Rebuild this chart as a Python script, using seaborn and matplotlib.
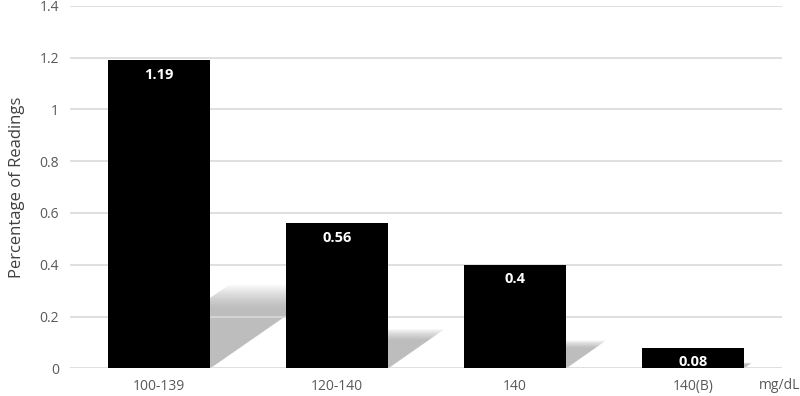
import numpy as np
import pandas as pd
import matplotlib
matplotlib.use("Agg")
import matplotlib.pyplot as plt
import seaborn as sns
from matplotlib.patches import Polygon

# readings per glucose range
ranges = ["100-139", "120-140", "140", "140(B)"]
percent = [1.19, 0.56, 0.4, 0.08]
value_labels = ["1.19", "0.56", "0.4", "0.08"]

df = pd.DataFrame({"range": ranges, "percent": percent})

sns.set_theme(style="white")
plt.rcParams["font.family"] = ["Open Sans", "DejaVu Sans"]

fig, ax = plt.subplots(figsize=(8, 3.96), dpi=100)
fig.subplots_adjust(left=0.0875, right=0.9775, top=0.985, bottom=0.07)

bar_w = 0.57
sns.barplot(data=df, x="range", y="percent", color="black", width=bar_w,
            saturation=1, edgecolor="black", linewidth=0, ax=ax, zorder=3)

# soft perspective shadow behind each bar (stacked faint layers fake the blur)
px_x = 712 / 4.0   # pixels per category
px_y = 362 / 1.4   # pixels per data unit
for i, v in enumerate(percent):
    h = 0.25 * v
    dx = 1.45 * h * px_y / px_x
    left, right = i - bar_w / 2, i + bar_w / 2
    for s in np.linspace(0.8, 1.08, 10):
        hh, dd = h * s, dx * s
        poly = Polygon([(left, 0), (right + 0.02 * (s - 0.8), 0),
                        (right + dd, hh), (left + dd, hh)],
                       closed=True, facecolor="#8c8c8c", edgecolor="none",
                       alpha=0.075, zorder=1)
        ax.add_patch(poly)

for i, v in enumerate(percent):
    ax.text(i, v - 0.028, value_labels[i], ha="center", va="top", color="white",
            fontsize=10.5, fontweight="bold", zorder=4)

ax.set_ylim(0, 1.4)
ax.set_xlim(-0.5, 3.5)
ax.set_yticks(np.arange(0, 1.41, 0.2))
ax.set_yticklabels(["0", "0.2", "0.4", "0.6", "0.8", "1", "1.2", "1.4"])
ax.yaxis.grid(True, color="#d9d9d9", linewidth=1.2, zorder=2)
ax.set_axisbelow(False)
for s in ax.spines.values():
    s.set_visible(False)
ax.tick_params(axis="both", length=0, labelsize=10, colors="#595959", pad=8)
ax.set_xlabel("")
ax.set_ylabel("Percentage of Readings", fontsize=12, color="#404040", labelpad=10)
ax.text(0.997, -0.028, "mg/dL", transform=ax.transAxes, ha="center", va="top",
        fontsize=10, color="#595959")

fig.savefig("out.png", dpi=100)
